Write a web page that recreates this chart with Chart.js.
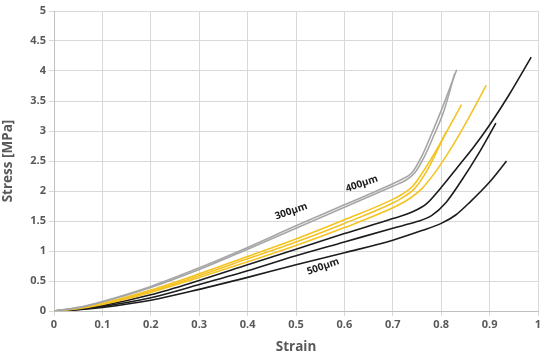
<!DOCTYPE html>
<html>
<head>
<meta charset="utf-8">
<script src="https://cdn.jsdelivr.net/npm/chart.js@4"></script>
<style>
  html, body { margin: 0; padding: 0; background: #fff; }
  #wrap { width: 550px; height: 355px; }
</style>
</head>
<body>
<div id="wrap"><canvas id="c"></canvas></div>
<script>
// strain / stress, one pair of arrays per specimen
const grey1Strain = [0, 0.05, 0.1, 0.2, 0.3, 0.4, 0.5, 0.6, 0.7, 0.72, 0.74, 0.76, 0.78, 0.8, 0.832];
const grey1Stress = [0, 0.06, 0.16, 0.41, 0.72, 1.06, 1.42, 1.77, 2.12, 2.2, 2.31, 2.58, 2.95, 3.34, 4.02];
const grey2Strain = [0, 0.05, 0.1, 0.2, 0.3, 0.4, 0.5, 0.6, 0.7, 0.725, 0.745, 0.765, 0.785, 0.805, 0.828];
const grey2Stress = [0, 0.055, 0.15, 0.39, 0.69, 1.03, 1.38, 1.73, 2.08, 2.17, 2.3, 2.57, 2.93, 3.32, 3.96];

const yel1Strain = [0, 0.05, 0.1, 0.2, 0.3, 0.4, 0.5, 0.6, 0.7, 0.72, 0.74, 0.76, 0.79, 0.842];
const yel1Stress = [0, 0.05, 0.13, 0.35, 0.62, 0.91, 1.2, 1.52, 1.86, 1.95, 2.07, 2.29, 2.68, 3.44];
const yel2Strain = [0, 0.05, 0.1, 0.2, 0.3, 0.4, 0.5, 0.6, 0.7, 0.72, 0.745, 0.77, 0.81];
const yel2Stress = [0, 0.045, 0.12, 0.33, 0.59, 0.87, 1.15, 1.46, 1.8, 1.89, 2.04, 2.33, 2.98];
const yel3Strain = [0, 0.05, 0.1, 0.2, 0.3, 0.4, 0.5, 0.6, 0.7, 0.73, 0.76, 0.79, 0.818, 0.85, 0.893];
const yel3Stress = [0, 0.04, 0.11, 0.31, 0.56, 0.82, 1.09, 1.39, 1.72, 1.85, 2.04, 2.34, 2.68, 3.12, 3.76];

const blk1Strain = [0, 0.05, 0.1, 0.2, 0.3, 0.4, 0.5, 0.6, 0.7, 0.74, 0.77, 0.8, 0.84, 0.866, 0.9, 0.94, 0.986];
const blk1Stress = [0, 0.03, 0.09, 0.27, 0.51, 0.77, 1.03, 1.29, 1.54, 1.65, 1.79, 2.06, 2.46, 2.72, 3.1, 3.6, 4.23];
const blk2Strain = [0, 0.05, 0.1, 0.2, 0.3, 0.4, 0.5, 0.6, 0.7, 0.75, 0.78, 0.81, 0.84, 0.88, 0.913];
const blk2Stress = [0, 0.025, 0.075, 0.22, 0.44, 0.67, 0.92, 1.15, 1.38, 1.49, 1.59, 1.81, 2.15, 2.66, 3.13];
const blk3Strain = [0, 0.05, 0.1, 0.2, 0.3, 0.4, 0.5, 0.6, 0.7, 0.76, 0.8, 0.83, 0.86, 0.9, 0.935];
const blk3Stress = [0, 0.02, 0.06, 0.18, 0.36, 0.56, 0.77, 0.97, 1.18, 1.34, 1.46, 1.6, 1.82, 2.15, 2.5];

const labelText = ['300µm', '400µm', '500µm'];
const labelStrain = [0.49, 0.636, 0.556];
const labelStress = [1.66, 2.12, 0.74];

const GREY = '#a6a6a6', YEL = '#f4c322', BLK = '#1c1c1c';

function pts(xs, ys) { return xs.map((x, i) => ({ x: x, y: ys[i] })); }
function curve(xs, ys, color) {
    return {
        data: pts(xs, ys),
        borderColor: color,
        borderWidth: 1.6,
        pointRadius: 0,
        showLine: true,
        fill: false,
        cubicInterpolationMode: 'monotone'
    };
}

const tagPlugin = {
    id: 'tags',
    afterDatasetsDraw(chart) {
        const ctx = chart.ctx, xs = chart.scales.x, ys = chart.scales.y;
        ctx.save();
        ctx.font = 'bold 10px "Open Sans"';
        ctx.fillStyle = '#1a1a1a';
        ctx.textAlign = 'center';
        ctx.textBaseline = 'middle';
        labelText.forEach((t, i) => {
            ctx.save();
            ctx.translate(xs.getPixelForValue(labelStrain[i]), ys.getPixelForValue(labelStress[i]));
            ctx.rotate(-19 * Math.PI / 180);
            ctx.fillText(t, 0, 0);
            ctx.restore();
        });
        ctx.restore();
    }
};

const tickFont = { family: 'Open Sans', size: 11, weight: 'bold' };
const titleFont = { family: 'Open Sans', size: 13.5, weight: 'bold' };
const plain = v => String(Math.round(v * 10) / 10);

new Chart(document.getElementById('c'), {
    type: 'scatter',
    data: {
        datasets: [
            curve(grey1Strain, grey1Stress, GREY),
            curve(grey2Strain, grey2Stress, GREY),
            curve(yel1Strain, yel1Stress, YEL),
            curve(yel2Strain, yel2Stress, YEL),
            curve(yel3Strain, yel3Stress, YEL),
            curve(blk1Strain, blk1Stress, BLK),
            curve(blk2Strain, blk2Stress, BLK),
            curve(blk3Strain, blk3Stress, BLK)
        ]
    },
    plugins: [tagPlugin],
    options: {
        responsive: true,
        maintainAspectRatio: false,
        animation: false,
        layout: { padding: { left: 0, right: 12, top: 11, bottom: 0 } },
        plugins: { legend: { display: false }, tooltip: { enabled: false } },
        scales: {
            x: {
                type: 'linear', min: 0, max: 1,
                afterFit: s => { s.height = 44; },
                ticks: { stepSize: 0.1, color: '#595959', font: tickFont, padding: 2, maxRotation: 0, callback: plain },
                grid: { color: '#d9d9d9', tickLength: 5 },
                border: { color: '#bfbfbf' },
                title: { display: true, text: 'Strain', color: '#595959', font: titleFont, padding: { top: 0, bottom: 0 } }
            },
            y: {
                min: 0, max: 5,
                afterFit: s => { s.width = 54; },
                ticks: { stepSize: 0.5, color: '#595959', font: tickFont, padding: 3, callback: plain },
                grid: { color: '#d9d9d9', tickLength: 5 },
                border: { color: '#bfbfbf' },
                title: { display: true, text: 'Stress [MPa]', color: '#595959', font: titleFont, padding: 0 }
            }
        }
    }
});
</script>
</body>
</html>
